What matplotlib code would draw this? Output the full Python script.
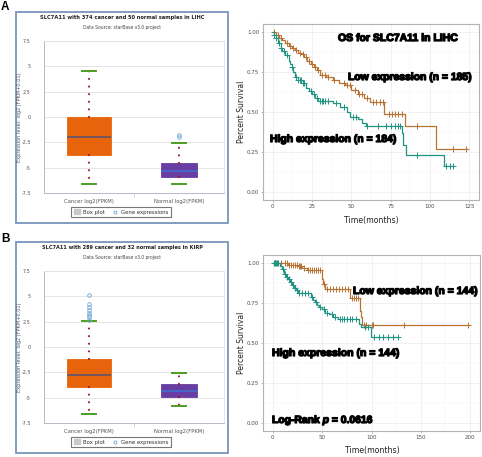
import matplotlib
matplotlib.use('Agg')
import matplotlib.pyplot as plt
import numpy as np
from matplotlib.patches import Rectangle, Patch
from matplotlib.lines import Line2D
import matplotlib.patheffects as pe

plt.rcParams['mathtext.fontset'] = 'custom'
plt.rcParams['mathtext.it'] = 'Liberation Sans:bold:italic'
plt.rcParams['mathtext.rm'] = 'Liberation Sans:bold'

# ---------------- data ----------------
box_categories = ['Cancer log2(FPKM)', 'Normal log2(FPKM)']
box_yticks = [7.5, 5, 2.5, 0, -2.5, -5, -7.5]
box_yticklabels = ['7.5', '5', '2.5', '0', '-2.5', '-5', '-7.5']

lihc_title = 'SLC7A11 with 374 cancer and 50 normal samples in LIHC'
lihc_q1 = [-3.75, -5.9]
lihc_med = [-1.97, -5.33]
lihc_q3 = [0.0, -4.55]
lihc_lo = [-6.6, -6.6]
lihc_hi = [4.5, -2.57]
lihc_fliers = [[], [-1.78, -2.0]]

kirp_title = 'SLC7A11 with 289 cancer and 32 normal samples in KIRP'
kirp_q1 = [-3.97, -4.92]
kirp_med = [-2.8, -4.33]
kirp_q3 = [-1.2, -3.7]
kirp_lo = [-6.6, -5.83]
kirp_hi = [2.6, -2.57]
kirp_fliers = [[5.12, 4.2, 3.97, 3.65, 3.38, 3.16, 2.92, 2.67], []]

# KM curves: step times and survival after each step, censor times
lihc_low_t = [0, 2, 4, 6, 8, 10, 12, 14, 16, 18, 20, 22, 24, 26, 28, 30, 34, 38, 42, 46, 50, 54, 58, 62, 71, 84, 104]
lihc_low_s = [1.0, 0.98, 0.96, 0.95, 0.93, 0.91, 0.90, 0.89, 0.87, 0.86, 0.845, 0.82, 0.80, 0.78, 0.76, 0.73, 0.72, 0.70, 0.68, 0.67, 0.64, 0.61, 0.585, 0.56, 0.49, 0.41, 0.27]
lihc_low_cens = [1, 3, 5, 9, 11, 13, 15, 17, 19, 21, 23, 25, 27, 29, 31, 33, 35, 39, 45, 47, 49, 52, 55, 57, 60, 64, 66, 68, 70, 74, 76, 78, 80, 82, 92, 115, 123]
lihc_low_end = 123

lihc_high_t = [0, 1, 2, 3, 5, 6, 8, 10, 11, 12, 13, 14, 16, 19, 21, 23, 25, 27, 29, 38, 43, 47, 49, 54, 57, 59, 82, 83, 85, 109]
lihc_high_s = [1.0, 0.98, 0.96, 0.93, 0.90, 0.88, 0.855, 0.82, 0.80, 0.78, 0.75, 0.72, 0.70, 0.68, 0.65, 0.63, 0.61, 0.59, 0.57, 0.555, 0.53, 0.50, 0.47, 0.455, 0.43, 0.41, 0.37, 0.295, 0.23, 0.16]
lihc_high_cens = [1, 2, 4, 5, 7, 9, 12, 15, 16, 17, 18, 19, 20, 24, 26, 28, 30, 31, 32, 33, 35, 40, 45, 51, 53, 60, 67, 72, 75, 78, 80, 81, 92, 110, 113, 115]
lihc_high_end = 115

kirp_low_t = [0, 15, 25, 30, 35, 50, 51, 53, 78, 88, 89, 90]
kirp_low_s = [1.0, 0.99, 0.98, 0.97, 0.955, 0.90, 0.87, 0.84, 0.78, 0.70, 0.66, 0.61]
kirp_low_cens = [2, 5, 8, 12, 14, 16, 18, 20, 22, 24, 26, 28, 29, 32, 36, 38, 40, 42, 44, 46, 48, 52, 55, 58, 61, 64, 67, 70, 73, 76, 80, 82, 84, 86, 92, 94, 100, 102, 133, 198]
kirp_low_end = 198

kirp_high_t = [0, 7, 9, 11, 13, 15, 17, 19, 21, 23, 25, 39, 41, 43, 45, 47, 50, 53, 57, 61, 66, 87, 89, 99]
kirp_high_s = [1.0, 0.98, 0.96, 0.93, 0.915, 0.90, 0.88, 0.865, 0.845, 0.83, 0.81, 0.79, 0.77, 0.755, 0.74, 0.725, 0.71, 0.69, 0.68, 0.665, 0.647, 0.62, 0.60, 0.535]
kirp_high_cens = [1, 2, 3, 4, 5, 10, 12, 14, 16, 18, 20, 22, 24, 27, 30, 33, 36, 40, 44, 48, 52, 55, 60, 63, 68, 70, 72, 75, 78, 80, 84, 93, 96, 103, 108, 112, 117, 122, 127]
kirp_high_end = 127

km_yticks = [0, 0.25, 0.5, 0.75, 1.0]
km_yticklabels = ['0.00', '0.25', '0.50', '0.75', '1.00']

# ---------------- layout ----------------
W, H = 482, 457
fig = plt.figure(figsize=(W / 100, H / 100), dpi=100)


def rect(x0, y0, x1, y1):
    return [x0 / W, 1 - y1 / H, (x1 - x0) / W, (y1 - y0) / H]


def fxy(x, y):
    return (x / W, 1 - y / H)


fit_list = []


def ftext(x, y, s, width=None, **kw):
    t = fig.text(*fxy(x, y), s, **kw)
    if width is not None:
        fit_list.append((t, width))
    return t


C_LOW = '#b87333'
C_HIGH = '#1f9483'
C_CANCER = '#e8640c'
C_NORMAL = '#6a3da3'


def box_panel(top, title, q1, med, q3, lo, hi, fliers):
    fig.patches.append(Rectangle(fxy(16, top + 211), 212 / W, 211 / H, transform=fig.transFigure,
                                 fill=False, edgecolor='#7895bd', linewidth=1.3))
    ftext(122, top + 6, title, width=165, ha='center', va='center', fontweight='bold',
          color='#222222', fontsize=5)
    ftext(122, top + 15, 'Data Source: starBase v3.0 project', width=78, ha='center', va='center',
          color='#444444', fontsize=4)
    ax = fig.add_axes(rect(44, top + 29, 224, top + 181))
    stats = []
    for i in range(len(box_categories)):
        stats.append(dict(med=med[i], q1=q1[i], q3=q3[i], whislo=lo[i], whishi=hi[i],
                          fliers=fliers[i], label=box_categories[i]))
    bp = ax.bxp(stats, positions=[0.5, 1.5], widths=[0.49, 0.39], patch_artist=True,
                showfliers=True,
                whiskerprops=dict(color='#a3161a', linestyle=(0, (0.05, 3.6)), linewidth=1.5,
                                  dash_capstyle='round'),
                capprops=dict(color='#4d9e22', linewidth=1.4),
                capwidths=[0.16, 0.16],
                flierprops=dict(marker='o', markerfacecolor='none', markeredgecolor='#6aa7d6',
                                markersize=2.6, markeredgewidth=0.6))
    for patch, c in zip(bp['boxes'], [C_CANCER, C_NORMAL]):
        patch.set_facecolor(c)
        patch.set_edgecolor(c)
        patch.set_linewidth(0.6)
    for m, c in zip(bp['medians'], ['#5b5570', '#3f6fcf']):
        m.set_color(c)
        m.set_linewidth(1.2)
    ax.set_xlim(0, 2)
    ax.set_ylim(-7.5, 7.5)
    ax.set_yticks(box_yticks)
    ax.set_yticklabels(box_yticklabels)
    ax.set_xticks([0.5, 1.5])
    ax.set_xticklabels(box_categories)
    ax.set_xticks([1], minor=True)
    ax.tick_params(axis='y', length=0, pad=9.5, labelsize=3.5, labelcolor='#555555')
    ax.tick_params(axis='x', which='major', length=0, pad=4, labelsize=3.8, labelcolor='#555555')
    ax.tick_params(axis='x', which='minor', length=3, color='#cccccc')
    ax.yaxis.grid(True, color='#e2e2e2', linewidth=0.6)
    ax.set_axisbelow(True)
    for s in ['top', 'right']:
        ax.spines[s].set_color('#e4e4e4')
        ax.spines[s].set_linewidth(0.6)
    for s in ['left', 'bottom']:
        ax.spines[s].set_color('#b8b8c8')
        ax.spines[s].set_linewidth(0.7)
    ftext(20, top + 105, 'Expression level: log2 (FPKM+0.01)', ha='center', va='center',
          rotation=90, fontsize=3.6, color='#555555')
    handles = [Patch(facecolor='#c8c8c8', edgecolor='#c8c8c8'),
               Line2D([], [], marker='o', linestyle='none', markerfacecolor='none',
                      markeredgecolor='#6aa7d6', markersize=2.2, markeredgewidth=0.6)]
    leg = ax.legend(handles, ['Box plot', 'Gene expressions'], ncol=2, loc='center',
                    bbox_to_anchor=fxy(121, top + 200), bbox_transform=fig.transFigure,
                    fontsize=3.9, frameon=True, fancybox=False, handlelength=1.1,
                    handleheight=0.9, handletextpad=0.5, columnspacing=1.4, borderpad=0.45)
    leg.get_frame().set_edgecolor('#555555')
    leg.get_frame().set_linewidth(0.8)
    for t in leg.get_texts():
        t.set_color('#333333')
    return ax


def step_curve(ax, t, s, end, cens, color):
    tt = list(t) + [end]
    ss = list(s) + [s[-1]]
    ax.step(tt, ss, where='post', color=color, linewidth=0.9)
    ct = np.array(cens, dtype=float)
    idx = np.searchsorted(np.array(t, dtype=float), ct, side='right') - 1
    cy = np.array(s)[idx]
    ax.plot(ct, cy, linestyle='none', marker='+', color=color, markersize=4, markeredgewidth=0.7)


def km_panel(box, xmax, xticks, low, high, ylab_y, xlab_y):
    ax = fig.add_axes(rect(*box))
    step_curve(ax, *low, C_LOW)
    step_curve(ax, *high, C_HIGH)
    pad = xmax * 0.05
    ax.set_xlim(-pad, xmax + pad)
    ax.set_ylim(-0.05, 1.05)
    ax.set_xticks(xticks)
    ax.set_xticklabels([str(x) for x in xticks])
    ax.set_yticks(km_yticks)
    ax.set_yticklabels(km_yticklabels)
    step = xticks[1] - xticks[0]
    ax.set_xticks([x + step / 2 for x in xticks[:-1]], minor=True)
    ax.set_yticks([0.125, 0.375, 0.625, 0.875], minor=True)
    ax.tick_params(which='major', length=1.5, color='#b3b3b3', width=0.6, pad=1.2,
                   labelsize=4.0, labelcolor='#4d4d4d')
    ax.tick_params(which='minor', length=0)
    ax.grid(True, which='major', color='#ebebeb', linewidth=0.5)
    ax.grid(True, which='minor', color='#f4f4f4', linewidth=0.3)
    ax.set_axisbelow(True)
    for s in ax.spines.values():
        s.set_color('#b3b3b3')
        s.set_linewidth(0.8)
    cx = (box[0] + box[2]) / 2
    ftext(241.5, ylab_y, 'Percent Survival', ha='center', va='center', rotation=90,
          fontsize=5.5, color='#222222')
    ftext(cx + 0.5, xlab_y, 'Time(months)', ha='center', va='center', fontsize=5.6,
          color='#222222')
    return ax


# panel letters
ftext(1, 7, 'A', ha='left', va='center', fontsize=8.5, fontweight='heavy',
      family='Liberation Sans')
ftext(1, 239, 'B', ha='left', va='center', fontsize=8.5, fontweight='heavy',
      family='Liberation Sans')

box_panel(12, lihc_title, lihc_q1, lihc_med, lihc_q3, lihc_lo, lihc_hi, lihc_fliers)
box_panel(242, kirp_title, kirp_q1, kirp_med, kirp_q3, kirp_lo, kirp_hi, kirp_fliers)

km_panel((263, 24, 479, 200), 125, [0, 25, 50, 75, 100, 125],
         (lihc_low_t, lihc_low_s, lihc_low_end, lihc_low_cens),
         (lihc_high_t, lihc_high_s, lihc_high_end, lihc_high_cens), 112, 220)
km_panel((263, 255, 480, 431), 200, [0, 50, 100, 150, 200],
         (kirp_low_t, kirp_low_s, kirp_low_end, kirp_low_cens),
         (kirp_high_t, kirp_high_s, kirp_high_end, kirp_high_cens), 343, 450)

bold_fx = [pe.withStroke(linewidth=0.9, foreground='black')]
ann = dict(ha='left', va='center', fontsize=8, fontweight='bold', family='Liberation Sans',
           color='black', path_effects=bold_fx)
ftext(338, 38, 'OS for SLC7A11 in LIHC', width=120, **ann)
ftext(348, 77, 'Low expression (n = 185)', width=124, **ann)
ftext(270, 139, 'High expression (n = 184)', width=127, **ann)
ftext(353, 291, 'Low expression (n = 144)', width=125, **ann)
ftext(272, 353, 'High expression (n = 144)', width=128, **ann)
ftext(272, 420, 'Log-Rank $p$ = 0.0616', width=102, **ann)

# fit text widths to targets
r = fig.canvas.get_renderer()
for t, w in fit_list:
    cur = t.get_window_extent(r).width
    t.set_fontsize(t.get_fontsize() * w / cur)

fig.savefig('out.png', dpi=100)
